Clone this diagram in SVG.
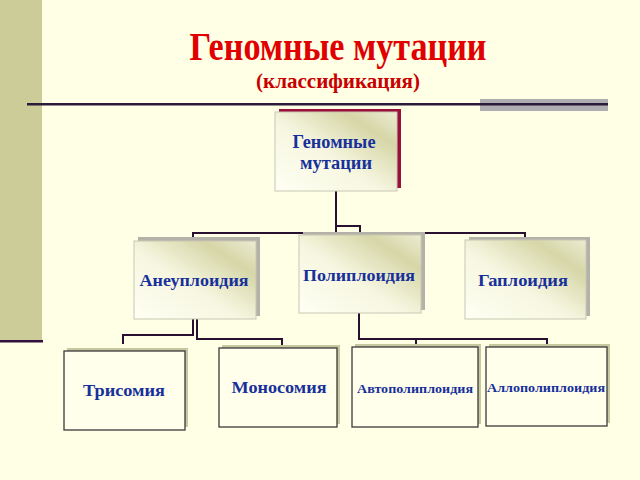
<svg xmlns="http://www.w3.org/2000/svg" width="640" height="480" viewBox="0 0 640 480">
<defs>
<linearGradient id="g1" x1="0" y1="1" x2="1" y2="0">
<stop offset="0" stop-color="#FFFFF4"/>
<stop offset="0.45" stop-color="#F6F6E0"/>
<stop offset="0.78" stop-color="#D6D6A8"/>
<stop offset="1" stop-color="#ECECD2"/>
</linearGradient>
<style>
.title{font-family:"Liberation Serif","Times New Roman",serif;font-weight:bold;text-anchor:middle}
.lbl{font-family:"Liberation Serif","Times New Roman",serif;font-weight:bold;fill:#17309A;text-anchor:middle}
.box2{fill:url(#g1);stroke:#C8C8B4;stroke-width:1}
.sh2{fill:#B4B2A8}
.box3{fill:#FFFFEC;stroke:#3A3A3A;stroke-width:1.3}
.sh3{fill:#C8C8A0}
.conn{fill:none;stroke:#2A1030;stroke-width:2}
</style>
</defs>
<rect x="0" y="0" width="640" height="480" fill="#FFFFE6"/>
<rect x="0" y="0" width="42" height="341" fill="#CCCC99"/>
<rect x="0" y="340" width="43" height="2.5" fill="#33113F"/>
<rect x="480" y="99" width="128" height="12" fill="#B0ADB0"/>
<rect x="27" y="103" width="581" height="2.5" fill="#2B1A3A"/>
<text class="title" x="338" y="60" font-size="39" fill="#E00000" textLength="297" lengthAdjust="spacingAndGlyphs">Геномные мутации</text>
<text class="title" x="338" y="88" font-size="21" fill="#C80000" textLength="164" lengthAdjust="spacingAndGlyphs">(классификация)</text>
<g id="connectors">
<path class="conn" d="M336 191 V233"/>
<path class="conn" d="M193 238 V233 H525 V238"/>
<path class="conn" d="M336 226 H360 V234"/>
<path class="conn" d="M193 319 V335 H123 V344"/>
<path class="conn" d="M197 319 V339 H282 V346"/>
<path class="conn" d="M359 313 V339 H547 V345"/>
<path class="conn" d="M416 339 V345"/>
</g>
<g id="n-genomic">
<rect x="279" y="109" width="122" height="79" fill="#99103A"/>
<rect x="275" y="112" width="122" height="79" class="box2"/>
<text class="lbl" x="334" y="148" font-size="18" textLength="83" lengthAdjust="spacingAndGlyphs">Геномные</text>
<text class="lbl" x="336" y="169" font-size="18" textLength="72" lengthAdjust="spacingAndGlyphs">мутации</text>
</g>
<g id="n-aneuploidy">
<rect x="138" y="237" width="122" height="79" class="sh2"/>
<rect x="134" y="241" width="122" height="78" class="box2"/>
<text class="lbl" x="194" y="286" font-size="17" textLength="109" lengthAdjust="spacingAndGlyphs">Анеуплоидия</text>
</g>
<g id="n-polyploidy">
<rect x="303" y="232" width="122" height="78" class="sh2"/>
<rect x="299" y="235" width="122" height="78" class="box2"/>
<text class="lbl" x="359" y="281" font-size="17" textLength="112" lengthAdjust="spacingAndGlyphs">Полиплоидия</text>
</g>
<g id="n-haploidy">
<rect x="469" y="237" width="121" height="79" class="sh2"/>
<rect x="465" y="240" width="121" height="79" class="box2"/>
<text class="lbl" x="523" y="286" font-size="17" textLength="90" lengthAdjust="spacingAndGlyphs">Гаплоидия</text>
</g>
<g id="n-trisomy">
<rect x="67" y="348" width="121" height="79" class="sh3"/>
<rect x="64" y="351" width="121" height="79" class="box3"/>
<text class="lbl" x="124" y="396" font-size="17" textLength="82" lengthAdjust="spacingAndGlyphs">Трисомия</text>
</g>
<g id="n-monosomy">
<rect x="222" y="345" width="118" height="79" class="sh3"/>
<rect x="219" y="348" width="118" height="79" class="box3"/>
<text class="lbl" x="279" y="393" font-size="17" textLength="95" lengthAdjust="spacingAndGlyphs">Моносомия</text>
</g>
<g id="n-autopolyploidy">
<rect x="355" y="344" width="126" height="80" class="sh3"/>
<rect x="352" y="347" width="126" height="80" class="box3"/>
<text class="lbl" x="415" y="393" font-size="13" textLength="116" lengthAdjust="spacingAndGlyphs">Автополиплоидия</text>
</g>
<g id="n-allopolyploidy">
<rect x="489" y="344" width="121" height="79" class="sh3"/>
<rect x="486" y="347" width="121" height="79" class="box3"/>
<text class="lbl" x="546" y="392" font-size="12.5" textLength="118" lengthAdjust="spacingAndGlyphs">Аллополиплоидия</text>
</g>
</svg>
